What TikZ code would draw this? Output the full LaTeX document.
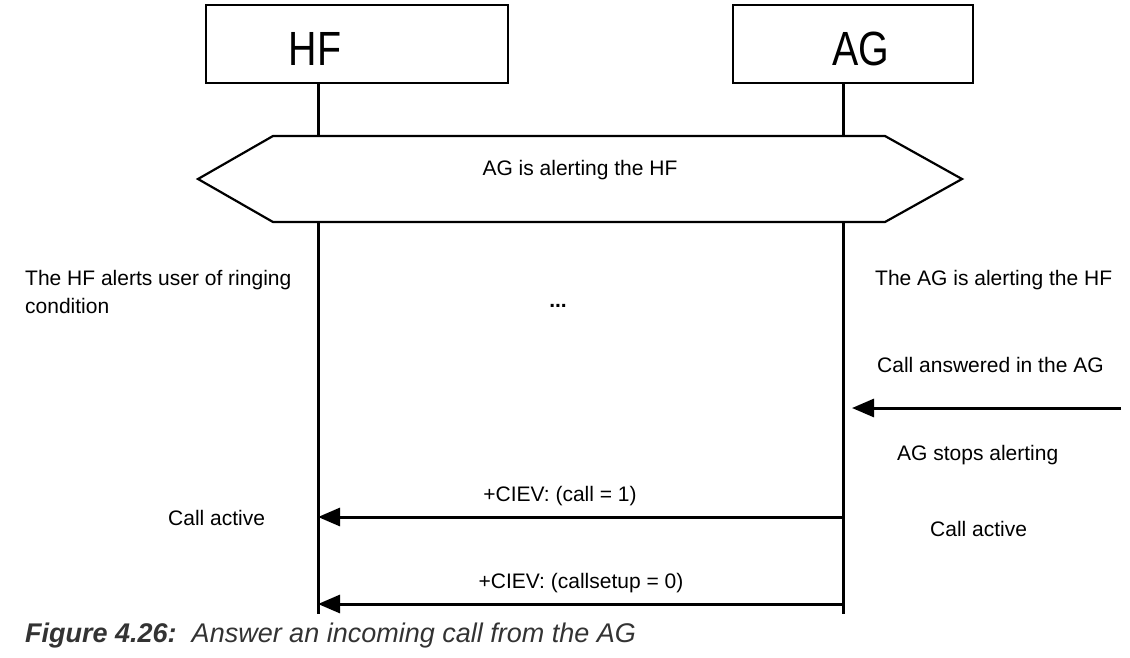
\documentclass[tikz,border=0pt]{standalone}
\usepackage{fontspec}
\setmainfont{Liberation Sans}
\usetikzlibrary{arrows.meta}
\begin{document}
\begin{tikzpicture}[x=1pt,y=-1pt,
  entity/.style={draw=black,line width=1.2pt,minimum height=78pt,inner sep=0pt},
  big/.style={inner sep=0pt,font=\fontsize{48}{52}\selectfont,xscale=0.82},
  life/.style={line width=3pt},
  msg/.style={line width=3pt,-{Triangle[length=22pt,width=18pt]}},
  lbl/.style={inner sep=0pt,font=\fontsize{21}{28}\selectfont},
  note/.style={lbl,anchor=base west,align=left}]
\useasboundingbox (0,0) rectangle (1130,657);
% entities
\node[entity,minimum width=302pt] (hf) at (357,44) {};
\node[entity,minimum width=240pt] (ag) at (853,44) {};
\node[big] (hft) at (315,49) {HF};
\node[big] (agt) at (861,49) {AG};
\coordinate (hfx) at (318,83);
\coordinate (agx) at (843,82);
% hexagon
\coordinate (h1) at (198,179);
\coordinate (h2) at (273,136);
\coordinate (h3) at (885,136);
\coordinate (h4) at (962,179);
\coordinate (h5) at (885,222);
\coordinate (h6) at (273,222);
\draw[line width=2.2pt,line join=miter] (h1) -- (h2) -- (h3) -- (h4) -- (h5) -- (h6) -- cycle;
\node[lbl] (hexlbl) at (580,170) {AG is alerting the HF};
% lifelines
\coordinate (hfa) at (318,136);
\coordinate (hfb) at (318,222);
\coordinate (hfe) at (318,614);
\coordinate (aga) at (843,136);
\coordinate (agb) at (843,222);
\coordinate (age) at (843,614);
\draw[life] (hfx) -- (hfa);
\draw[life] (agx) -- (aga);
\draw[life] (hfb) -- (hfe);
\draw[life] (agb) -- (age);
% notes
\node[note] (n1) at (25,313) {The HF alerts user of ringing\\condition};
\node[note] (n2) at (875,285) {The AG is alerting the HF};
\node[lbl,font=\fontsize{21}{28}\selectfont\bfseries] (dots) at (558,306) {...};
\node[note] (n3) at (877,372) {Call answered in the AG};
\coordinate (ext) at (1121,408);
\coordinate (extend) at (852,408);
\draw[msg] (ext) -- (extend);
\node[note] (n4) at (897,460) {AG stops alerting};
% messages
\coordinate (m1s) at (843,517);
\coordinate (m1e) at (318,517);
\draw[msg] (m1s) -- (m1e);
\node[lbl] (m1) at (560,496) {+CIEV: (call = 1)};
\node[note] (ca1) at (168,525) {Call active};
\node[note] (ca2) at (930,536) {Call active};
\coordinate (m2s) at (843,604);
\coordinate (m2e) at (318,604);
\draw[msg] (m2s) -- (m2e);
\node[lbl] (m2) at (581,583) {+CIEV: (callsetup = 0)};
% caption
\node[anchor=base west,inner sep=0pt,text=black!80,font=\fontsize{27}{32}\selectfont\itshape] (cap) at (25,642) {\textbf{Figure 4.26:}\ \ Answer an incoming call from the AG};
\end{tikzpicture}
\end{document}
